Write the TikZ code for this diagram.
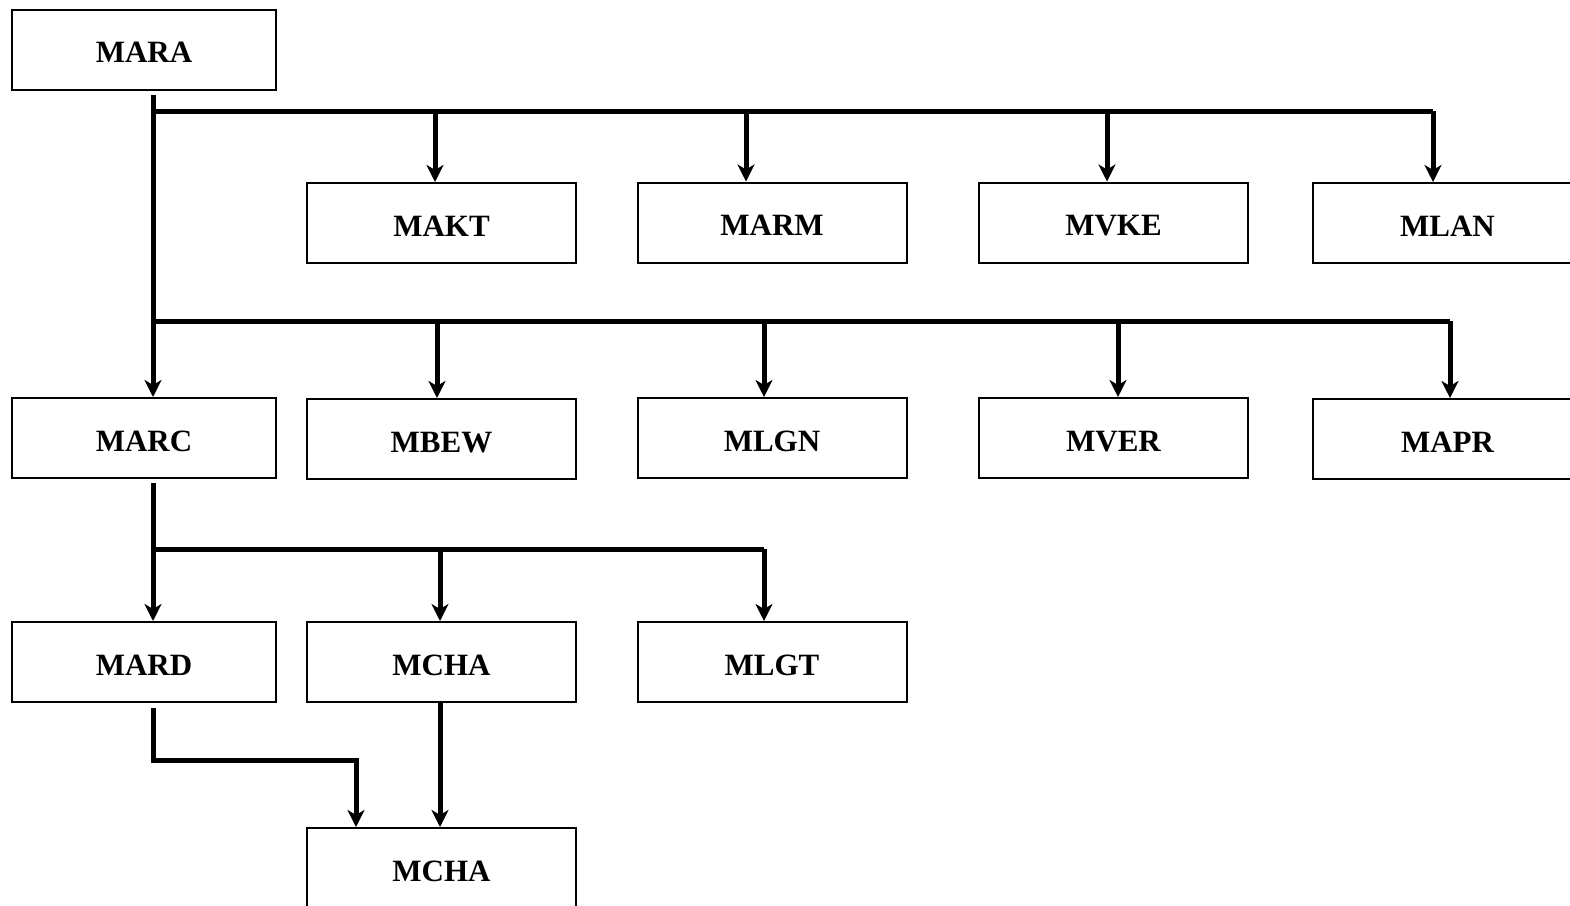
\documentclass[tikz,border=0pt]{standalone}
\usepackage{fontspec}
\setmainfont{Liberation Serif}
\usetikzlibrary{arrows.meta}
\begin{document}
\begin{tikzpicture}[x=1pt,y=1pt,
  box/.style={draw=black,line width=2pt,minimum width=269pt,minimum height=80pt,inner sep=0pt,
    text height=26pt,text depth=0pt,font=\fontsize{31}{31}\selectfont\bfseries},
  nbox/.style={box,minimum width=264pt},
  conn/.style={line width=5pt},
  arr/.style={conn,-{Stealth[length=17pt,width=17pt,inset=5pt]}}]
\useasboundingbox (0,0) rectangle (1570,-905);
\clip (0,0) rectangle (1570,-905);
% nodes
\node[nbox] (MARA) at (144,-49.5) {MARA};
\node[box] (MAKT) at (441.5,-223) {MAKT};
\node[box] (MARM) at (772,-222.5) {MARM};
\node[box] (MVKE) at (1113.5,-222.5) {MVKE};
\node[box] (MLAN) at (1447.5,-223) {MLAN};
\node[nbox] (MARC) at (144,-438) {MARC};
\node[box] (MBEW) at (441.5,-439) {MBEW};
\node[box] (MLGN) at (772,-438) {MLGN};
\node[box] (MVER) at (1113.5,-438) {MVER};
\node[box] (MAPR) at (1447.5,-439) {MAPR};
\node[nbox] (MARD) at (144,-662) {MARD};
\node[box] (MCHA) at (441.5,-662) {MCHA};
\node[box] (MLGT) at (772,-662) {MLGT};
\node[box] (MCHB) at (441.5,-868) {MCHA};
% junction coordinates
\coordinate (t0) at (153,-95);
\coordinate (b1s) at (153,-111);
\coordinate (b1a) at (435,-111);
\coordinate (b1b) at (746,-111);
\coordinate (b1c) at (1107,-111);
\coordinate (b1d) at (1433,-111);
\coordinate (b2s) at (153,-321);
\coordinate (b2a) at (437,-321);
\coordinate (b2b) at (764,-321);
\coordinate (b2c) at (1118,-321);
\coordinate (b2d) at (1450,-321);
\coordinate (t1) at (153,-483);
\coordinate (b3s) at (153,-549);
\coordinate (b3a) at (440,-549);
\coordinate (b3b) at (764,-549);
\coordinate (t2) at (153,-708);
\coordinate (k1) at (153,-760);
\coordinate (k2) at (356,-760);
\coordinate (m1) at (440,-702);
% connectors
\draw[arr] (t0) -- (MARC.north -| t0);
\draw[conn] (b1s) -- (b1d);
\draw[arr] (b1a) -- (MAKT.north -| b1a);
\draw[arr] (b1b) -- (MARM.north -| b1b);
\draw[arr] (b1c) -- (MVKE.north -| b1c);
\draw[arr] (b1d) -- (MLAN.north -| b1d);
\draw[conn] (b2s) -- (b2d);
\draw[arr] (b2a) -- (MBEW.north -| b2a);
\draw[arr] (b2b) -- (MLGN.north -| b2b);
\draw[arr] (b2c) -- (MVER.north -| b2c);
\draw[arr] (b2d) -- (MAPR.north -| b2d);
\draw[arr] (t1) -- (MARD.north -| t1);
\draw[conn] (b3s) -- (b3b);
\draw[arr] (b3a) -- (MCHA.north -| b3a);
\draw[arr] (b3b) -- (MLGT.north -| b3b);
\draw[arr] (t2) -- (k1) -- (k2) -- (MCHB.north -| k2);
\draw[arr] (MCHA.south -| m1) -- (MCHB.north -| m1);
\end{tikzpicture}
\end{document}
